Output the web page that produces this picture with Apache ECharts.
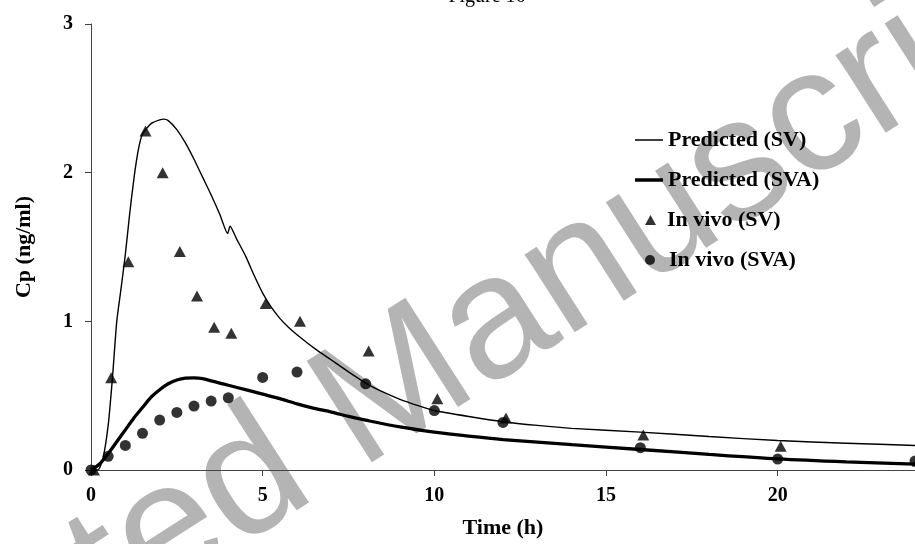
<!DOCTYPE html>
<html><head><meta charset="utf-8">
<script src="https://cdn.jsdelivr.net/npm/echarts@6/dist/echarts.min.js"></script>
<style>html,body{margin:0;padding:0;background:#fff}#c{width:915px;height:544px}</style>
</head><body><div id="c"></div>
<script>
// Predicted curves
const predSVTime = [0,0.2,0.35,0.5,0.625,0.75,0.875,1.0,1.125,1.25,1.375,1.5,1.75,2.0,2.125,2.25,2.5,2.75,3.0,3.25,3.5,3.75,3.98,4.05,4.25,4.5,4.75,5.0,5.25,5.5,5.75,6.0,6.5,7.0,7.5,8.0,8.5,9.0,9.5,10,11,12,13,14,16,18,20,22,24];
const predSV     = [0,0.0,0.08,0.30,0.62,1.00,1.22,1.45,1.72,1.96,2.15,2.26,2.33,2.355,2.36,2.35,2.29,2.20,2.09,1.97,1.85,1.72,1.59,1.64,1.55,1.44,1.31,1.19,1.095,1.02,0.96,0.91,0.82,0.74,0.66,0.585,0.525,0.475,0.435,0.40,0.36,0.325,0.30,0.28,0.255,0.225,0.198,0.18,0.165];
const predSVATime = [0,0.25,0.5,0.75,1.0,1.25,1.5,1.75,2.0,2.25,2.5,2.75,3.0,3.25,3.5,3.75,4.0,4.5,5.0,5.5,6.0,6.5,7.0,7.5,8.0,9.0,10,11,12,14,16,18,20,22,24];
const predSVA     = [0,0.04,0.11,0.19,0.27,0.35,0.42,0.49,0.54,0.58,0.605,0.618,0.62,0.615,0.60,0.585,0.57,0.54,0.51,0.48,0.445,0.415,0.39,0.36,0.335,0.29,0.255,0.228,0.205,0.17,0.138,0.105,0.075,0.055,0.04];
// Observed (in vivo)
const obsTime  = [0,0.5,1,1.5,2,2.5,3,3.5,4,5,6,8,10,12,16,20,24];
const obsSV    = [0,0.62,1.40,2.28,2.00,1.47,1.17,0.96,0.92,1.12,1.00,0.80,0.48,0.35,0.236,0.16,0.06];
const obsSVA   = [0,0.092,0.165,0.247,0.336,0.387,0.43,0.464,0.486,0.623,0.659,0.58,0.40,0.32,0.15,0.074,0.06];
const xTicks = [0,5,10,15,20];
const yTicks = [0,1,2,3];
const names = ['Predicted (SV)','Predicted (SVA)','In vivo (SV)','In vivo (SVA)'];

const zip = (a,b) => a.map((v,i)=>[v,b[i]]);
const serif = 'Liberation Serif, Times New Roman, serif';
const chart = echarts.init(document.getElementById('c'), null, {renderer:'canvas'});
const legendText = (pad) => ({fontFamily:serif, fontWeight:'bold', fontSize:22, color:'#000', lineHeight:24, padding:[0,0,0,pad]});
const wmFont = 175;
chart.setOption({
  animation:false,
  backgroundColor:'#fff',
  title:{text:'Figure 16', left:482, textAlign:'center', top:-18,
    textStyle:{fontFamily:serif, fontWeight:'normal', fontSize:20, color:'#000'}},
  graphic:[{type:'text', x:395, y:390, rotation:0.57, z:-10, silent:true,
    style:{text:'Accepted Manuscript', x:-4.8635*wmFont, y:0, textAlign:'left', textVerticalAlign:'middle',
      font:wmFont+'px "Liberation Sans", Arial, sans-serif', fill:'#b4b4b4'}}],
  grid:{left:91, right:-2, top:24, bottom:69},
  xAxis:{type:'value', min:xTicks[0], max:24, interval:xTicks[1]-xTicks[0],
    name:'Time (h)', nameLocation:'middle', nameGap:47,
    nameTextStyle:{fontFamily:serif, fontWeight:'bold', fontSize:22, color:'#000'},
    axisLine:{lineStyle:{color:'#444', width:1}},
    axisTick:{inside:false, length:6, lineStyle:{color:'#444'}},
    axisLabel:{margin:16, fontFamily:serif, fontWeight:'bold', fontSize:20, color:'#000', showMaxLabel:false,
      formatter:v=> xTicks.includes(v)? String(v):''},
    splitLine:{show:false}},
  yAxis:{type:'value', min:yTicks[0], max:yTicks[yTicks.length-1], interval:1,
    name:'Cp (ng/ml)', nameLocation:'middle', nameGap:56,
    nameTextStyle:{fontFamily:serif, fontWeight:'bold', fontSize:22, color:'#000'},
    axisLine:{show:true, lineStyle:{color:'#444', width:1}},
    axisTick:{show:true, inside:false, length:6, lineStyle:{color:'#444'}},
    axisLabel:{margin:18, fontFamily:serif, fontWeight:'bold', fontSize:20, color:'#000'},
    splitLine:{show:false}},
  legend:[
    {data:[names[0]], left:635, top:128, itemWidth:28, itemHeight:1.5, icon:'rect', padding:0, textStyle:legendText(0)},
    {data:[names[1]], left:635, top:168, itemWidth:28, itemHeight:3.5, icon:'rect', padding:0, textStyle:legendText(0)},
    {data:[names[2]], left:645, top:208, itemWidth:11, itemHeight:10, icon:'triangle', padding:0, textStyle:legendText(6)},
    {data:[names[3]], left:645, top:248, itemWidth:10, itemHeight:10, icon:'circle', padding:0, textStyle:legendText(9)}
  ],
  series:[
    {name:names[0], type:'line', data:zip(predSVTime, predSV), showSymbol:false, smooth:0.2,
      lineStyle:{color:'#000', width:1.4}, itemStyle:{color:'#000'}, z:3},
    {name:names[1], type:'line', data:zip(predSVATime, predSVA), showSymbol:false, smooth:0.3,
      lineStyle:{color:'#000', width:3.3}, itemStyle:{color:'#000'}, z:3},
    {name:names[2], type:'scatter', data:zip(obsTime, obsSV), symbol:'triangle', symbolSize:[12,11],
      symbolOffset:[3,0], itemStyle:{color:'#000'}, z:4},
    {name:names[3], type:'scatter', data:zip(obsTime, obsSVA), symbol:'circle', symbolSize:11,
      itemStyle:{color:'#000'}, z:4}
  ]
});
</script></body></html>
